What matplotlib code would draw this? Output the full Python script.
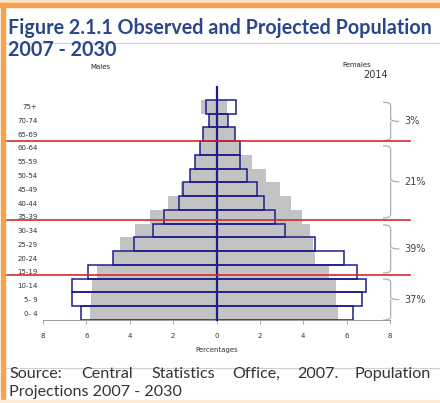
import matplotlib
matplotlib.use("Agg")
import matplotlib.pyplot as plt
from matplotlib.path import Path
from matplotlib.patches import PathPatch, Rectangle
from matplotlib.lines import Line2D

# age groups, bottom to top
ages = ["0- 4", "5- 9", "10-14", "15-19", "20-24", "25-29", "30-34", "35-39",
        "40-44", "45-49", "50-54", "55-59", "60-64", "65-69", "70-74", "75+"]

# grey (filled) bars, % of population
male_grey = [5.83, 5.78, 5.74, 5.51, 4.78, 4.43, 3.78, 3.06,
             2.25, 1.63, 1.22, 0.98, 0.75, 0.63, 0.35, 0.71]
female_grey = [5.62, 5.53, 5.50, 5.19, 4.53, 4.45, 4.30, 3.95,
               3.45, 2.92, 2.29, 1.65, 1.09, 0.85, 0.54, 0.49]

# outlined bars (2014), % of population
male_2014 = [6.24, 6.67, 6.66, 5.94, 4.78, 3.82, 2.91, 2.43,
             1.75, 1.55, 1.22, 0.98, 0.75, 0.60, 0.35, 0.48]
female_2014 = [6.30, 6.71, 6.91, 6.50, 5.88, 4.56, 3.18, 2.68,
               2.19, 1.87, 1.40, 1.08, 1.10, 0.85, 0.54, 0.88]

# age-band groupings: (top, bottom, label) in row units
groups = [(15.32, 12.53, "3%"), (12.16, 6.92, "21%"),
          (6.41, 2.91, "39%"), (2.48, -0.51, "37%")]
red_lines = [12.5, 6.75, 2.75]

xticks = [-8, -6, -4, -2, 0, 2, 4, 6, 8]

title_lines = ["Figure 2.1.1 Observed and Projected Population", "2007 - 2030"]
source_words = ["Source:", "Central", "Statistics", "Office,", "2007.", "Population"]
source_x = [9, 81, 151, 232, 297, 355]

W, H = 440, 403
fig = plt.figure(figsize=(W / 100, H / 100), dpi=100)
fig.patch.set_facecolor("white")

NAVY = "#1c1c8a"
GREY = "#c3c3c3"

# frame decorations (pixel -> figure fraction)
def fx(px):
    return px / W

def fy(py):
    return 1 - py / H

fig.patches.append(Rectangle((0, fy(3)), 1, fy(0) - fy(3), transform=fig.transFigure,
                             color="#fde3c8", zorder=0))
fig.patches.append(Rectangle((0, fy(7)), 1, fy(3) - fy(7), transform=fig.transFigure,
                             color="#f6a24e", zorder=0))
fig.patches.append(Rectangle((fx(1), 0), fx(5) - fx(1), fy(3), transform=fig.transFigure,
                             color="#f6a24e", zorder=0))
fig.patches.append(Rectangle((0, 0), 1, fy(400), transform=fig.transFigure,
                             color="#fde9d6", zorder=0))
fig.lines.append(Line2D([fx(6), 1], [fy(42.5), fy(42.5)], transform=fig.transFigure,
                        color="#d0d0d0", lw=0.8))
fig.lines.append(Line2D([fx(6), 1], [fy(368), fy(368)], transform=fig.transFigure,
                        color="#d0d0d0", lw=0.8))

for line, base in zip(title_lines, [34, 56.5]):
    fig.text(fx(8), fy(base), line, ha="left", va="baseline", fontsize=14.2,
             fontweight="bold", color="#2a478c", family="Lato")

for word, x in zip(source_words, source_x):
    fig.text(fx(x), fy(378), word, ha="left", va="baseline", fontsize=11.6,
             color="#333333", family="Lato")
fig.text(fx(9), fy(396), "Projections 2007 - 2030", ha="left", va="baseline",
         fontsize=11.6, color="#333333", family="Lato")

# pyramid axes
ax = fig.add_axes([fx(43), fy(320), fx(390) - fx(43), fy(86) - fy(320)])
ax.set_facecolor("none")
y = list(range(len(ages)))

ax.barh(y, [-v for v in male_grey], height=1.0, color=GREY, zorder=1)
ax.barh(y, female_grey, height=1.0, color=GREY, zorder=1)
ax.barh(y, [-v for v in male_2014], height=1.0, fill=False, edgecolor=NAVY,
        linewidth=1.1, zorder=2)
ax.barh(y, female_2014, height=1.0, fill=False, edgecolor=NAVY,
        linewidth=1.1, zorder=2)
ax.plot([0, 0], [-0.5, 16.45], color=NAVY, lw=1.6, zorder=3, clip_on=False)

ax.set_xlim(-8, 8)
ax.set_ylim(-0.5, 16.5)

for ry in red_lines:
    ax.plot([-9.65, 8.9], [ry, ry], color="#d42a2a", lw=1.2, zorder=4, clip_on=False)

# curly braces
BRACE = "#a9b0b0"
for top, bot, label in groups:
    mid = (top + bot) / 2
    x0 = 8.03
    verts = [(x0 - 0.35, top), (x0, top), (x0, top - 0.25),
             (x0, mid + 0.2),
             (x0, mid), (x0 + 0.4, mid),
             (x0, mid), (x0, mid - 0.2),
             (x0, bot + 0.25),
             (x0, bot), (x0 - 0.35, bot)]
    codes = [Path.MOVETO, Path.CURVE3, Path.CURVE3, Path.LINETO,
             Path.CURVE3, Path.CURVE3, Path.MOVETO, Path.LINETO,
             Path.LINETO, Path.CURVE3, Path.CURVE3]
    ax.add_patch(PathPatch(Path(verts, codes), fill=False, edgecolor=BRACE,
                           lw=0.9, clip_on=False))
    ax.text(8.68, mid, label, ha="left", va="center", fontsize=7, color="#444444")

ax.set_yticks(y)
ax.set_yticklabels(ages, fontsize=5, color="#333333")
ax.tick_params(axis="y", length=0, pad=4)
ax.set_xticks(xticks)
ax.set_xticklabels([str(abs(t)) for t in xticks], fontsize=5, color="#333333")
ax.tick_params(axis="x", length=3, width=0.6, color="#999999", pad=6)
for side in ["top", "right", "left"]:
    ax.spines[side].set_visible(False)
ax.spines["bottom"].set_color("#999999")
ax.spines["bottom"].set_linewidth(0.7)
ax.set_xlabel("Percentages", fontsize=5, color="#333333", labelpad=6)

ax.text(-5.35, 17.9, "Males", ha="center", va="center", fontsize=5, color="#222222")
ax.text(6.45, 18.0, "Females", ha="center", va="center", fontsize=5, color="#222222")
ax.text(7.35, 17.3, "2014", ha="center", va="center", fontsize=7, color="#333333")

fig.savefig("out.png", dpi=100)
